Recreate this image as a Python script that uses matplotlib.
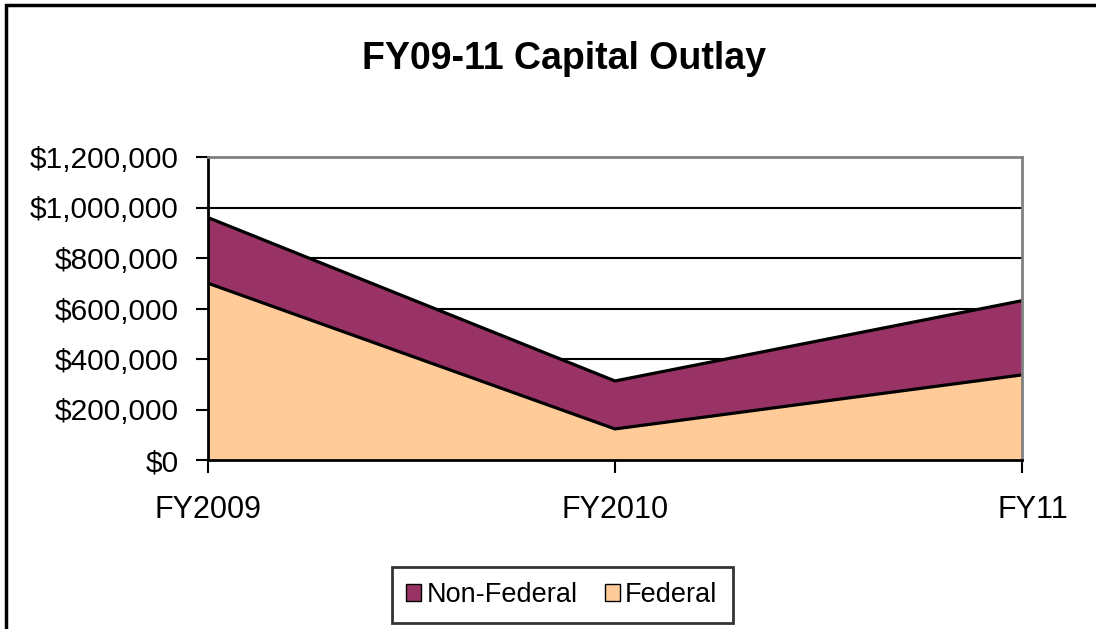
import numpy as np
import matplotlib
matplotlib.use("Agg")
import matplotlib.pyplot as plt
import matplotlib.transforms as mtransforms
from matplotlib.patches import Rectangle, Patch
from matplotlib.ticker import FuncFormatter

plt.rcParams['font.family'] = ['Liberation Sans', 'DejaVu Sans']

# data
years = ["FY2009", "FY2010", "FY11"]
federal = [700000, 123000, 337000]
non_federal = [260000, 190000, 294000]

fed = np.array(federal)
total = fed + np.array(non_federal)
x = np.arange(len(years))

fig = plt.figure(figsize=(10.96, 6.29), dpi=100)
ax = fig.add_axes([208/1096, 1-460/629, (1022-208)/1096, (460-157)/629])

# outer chart frame (runs off the right and bottom edges)
fig.patches.append(Rectangle((6/1096, -0.05), 1.2, 1-5/629+0.05, transform=fig.transFigure,
                             fill=False, edgecolor='black', linewidth=2.5, clip_on=False))

ax.fill_between(x, 0, fed, facecolor='#FFCC99', edgecolor='none', zorder=2)
ax.fill_between(x, fed, total, facecolor='#993366', edgecolor='none', zorder=2)
ax.plot(x, fed, color='black', lw=2.3, zorder=3)
ax.plot(x, total, color='black', lw=2.3, zorder=3)

ax.set_xlim(0, 2)
ax.set_ylim(0, 1200000)
ax.set_yticks(np.arange(0, 1200001, 200000))
ax.yaxis.set_major_formatter(FuncFormatter(lambda v, p: "${:,.0f}".format(v)))
for yv in range(200000, 1200000, 200000):
    ax.axhline(yv, color='black', lw=1.5, zorder=1)

ax.set_xticks(x)
ax.set_xticklabels(years)
ax.tick_params(axis='y', direction='out', length=9, width=1.5, labelsize=21.5, pad=12)
ax.tick_params(axis='x', direction='out', length=9, width=1.5, labelsize=22, pad=16)
# Excel pushes the last label a bit to the right
lab = ax.get_xticklabels()[-1]
lab.set_transform(lab.get_transform() + mtransforms.ScaledTranslation(0.11, 0, fig.dpi_scale_trans))

ax.spines['left'].set_color('black')
ax.spines['left'].set_linewidth(2)
ax.spines['bottom'].set_color('black')
ax.spines['bottom'].set_linewidth(2)
ax.spines['top'].set_color('#808080')
ax.spines['top'].set_linewidth(2)
ax.spines['right'].set_color('#808080')
ax.spines['right'].set_linewidth(2)
for s in ax.spines.values():
    s.set_zorder(4)

fig.text(0.515, 1-59/629, "FY09-11 Capital Outlay", ha='center', va='center',
         fontsize=27, fontweight='bold')

handles = [Patch(facecolor='#993366', edgecolor='black', label='Non-Federal'),
           Patch(facecolor='#FFCC99', edgecolor='black', label='Federal')]
leg = fig.legend(handles=handles, loc='center', bbox_to_anchor=(562/1096, 1-595/629),
                 ncol=2, fontsize=19.5, frameon=True, fancybox=False, edgecolor='black',
                 handlelength=0.55, handleheight=0.55, handletextpad=0.2, columnspacing=1.0,
                 borderpad=0.55, borderaxespad=0)
leg.get_frame().set_linewidth(2)

fig.savefig("out.png", dpi=100)
